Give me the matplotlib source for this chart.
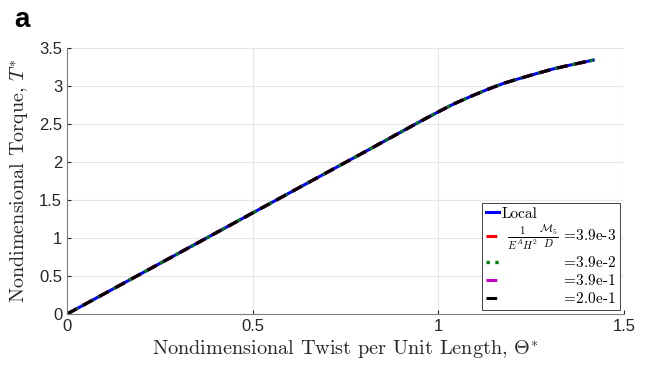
import matplotlib
matplotlib.use("Agg")
import matplotlib.pyplot as plt
import numpy as np

plt.rcParams['mathtext.fontset'] = 'cm'
plt.rcParams['font.family'] = ['Liberation Sans', 'DejaVu Sans']

# torque vs twist curve (all models collapse onto one line)
theta = [0, 0.2, 0.4, 0.6, 0.8, 0.95, 1.0, 1.04, 1.086, 1.13, 1.176, 1.22, 1.266, 1.31, 1.356, 1.417]
torque = [0, 0.532, 1.064, 1.596, 2.128, 2.53, 2.66, 2.76, 2.86, 2.95, 3.035, 3.10, 3.165, 3.225, 3.276, 3.34]

pad = r"$\qquad\qquad\ \;$"
labels = ["Local",
          r" $\frac{1}{E^AH^2}\frac{\mathcal{M}_5}{D}$ =3.9e-3",
          pad + "=3.9e-2",
          pad + "=3.9e-1",
          pad + "=2.0e-1"]
colors = ['#0000ff', '#ff0000', '#007f00', '#bf00bf', '#000000']
styles = ['-', (0, (3.5, 2.5)), ':', (0, (3.5, 2.5)), (0, (3.5, 2.5))]
widths = [2.2, 2.2, 2.4, 2.2, 2.2]

fig = plt.figure(figsize=(6.48, 3.66), dpi=100)
ax = fig.add_axes([0.1034, 0.142, 0.8596, 0.727])

for lab, c, ls, lw in zip(labels, colors, styles, widths):
    ax.plot(theta, torque, color=c, linestyle=ls, linewidth=lw, label=lab)

ax.set_xlim(0, 1.5)
ax.set_ylim(0, 3.5)
ax.set_xticks([0, 0.5, 1, 1.5])
ax.set_xticklabels(['0', '0.5', '1', '1.5'])
ax.set_yticks(np.arange(0, 3.51, 0.5))
ax.set_yticklabels(['0', '0.5', '1', '1.5', '2', '2.5', '3', '3.5'])
ax.tick_params(direction='in', labelsize=12, colors='#262626', length=3)
ax.grid(True, color='#e6e6e6', linewidth=0.8)
ax.set_axisbelow(True)
for s in ['top', 'right']:
    ax.spines[s].set_visible(False)
for s in ['left', 'bottom']:
    ax.spines[s].set_color('#7f7f7f')

ax.set_xlabel(r"Nondimensional Twist per Unit Length, $\Theta^{\mathrm{*}}$",
              family='cmr10', fontsize=14.6, color='#262626', labelpad=3)
ax.set_ylabel(r"Nondimensional Torque, $T^{\mathrm{*}}$",
              family='cmr10', fontsize=14.5, color='#262626', labelpad=6)

leg = ax.legend(loc='lower right', bbox_to_anchor=(0.992, 0.015),
                handlelength=0.9, handletextpad=0.15, labelspacing=0.2,
                borderpad=0.25, borderaxespad=0, fancybox=False, framealpha=1,
                edgecolor='#262626', prop={'family': 'cmr10', 'size': 11})
leg.get_frame().set_linewidth(0.6)

fig.text(0.022, 0.926, 'a', fontsize=20, fontweight='bold')

fig.savefig('out.png', dpi=100)
